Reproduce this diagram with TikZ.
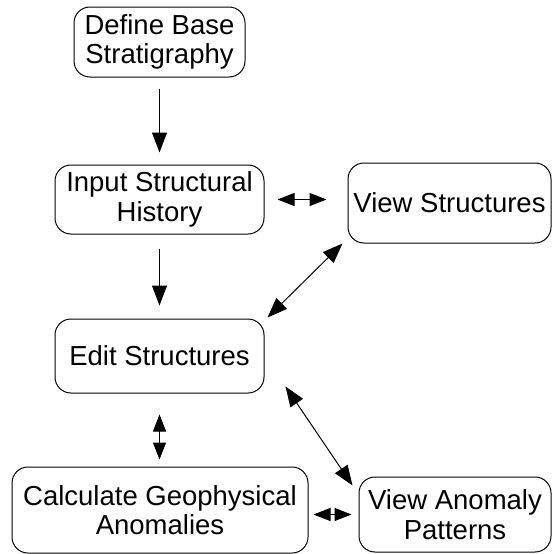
\documentclass[tikz,border=0pt]{standalone}
\usepackage{fontspec}
\setmainfont{Liberation Sans}
\usetikzlibrary{arrows.meta,calc}
\begin{document}
\begin{tikzpicture}[x=1pt,y=-1pt,
  box/.style={draw, line width=1pt, rounded corners=16pt, align=center, inner sep=0pt,
    font=\fontsize{27.5}{29.5}\selectfont},
  arr/.style={line width=1pt, -{Triangle[length=20pt,width=15pt]}},
  darr/.style={line width=1pt, {Triangle[length=20pt,width=15pt]}-{Triangle[length=20pt,width=15pt]}},
  sarr/.style={line width=1pt, {Triangle[length=17pt,width=13pt]}-{Triangle[length=17pt,width=13pt]}}]
\useasboundingbox (0,0) rectangle (552,554);
\node[box, minimum width=171pt, minimum height=70pt] (def) at (159.5,42) {Define Base\\Stratigraphy};
\node[box, minimum width=209pt, minimum height=69pt] (inp) at (159.5,199.5) {Input Structural\\History};
\node[box, minimum width=203pt, minimum height=80pt] (vs) at (449.5,203) {View Structures};
\node[box, minimum width=209pt, minimum height=74pt] (ed) at (159.5,356) {Edit Structures};
\node[box, minimum width=296pt, minimum height=86pt] (calc) at (160,510) {Calculate Geophysical\\Anomalies};
\node[box, minimum width=192pt, minimum height=75pt] (va) at (455,514.5) {View Anomaly\\Patterns};
\draw[arr, shorten <=11pt, shorten >=12pt] (def) -- (inp);
\draw[arr, shorten <=14pt, shorten >=13pt] (inp) -- (ed);
\draw[sarr, shorten <=13pt, shorten >=21pt] (inp.east) -- (inp.east -| vs.west);
\draw[darr] ([shift={(3pt,1pt)}]ed.north east) -- ([shift={(-5pt,0pt)}]vs.south west);
\draw[darr] ([shift={(21pt,7pt)}]ed.south east) -- ([shift={(-6pt,-9pt)}]va.north west);
\draw[sarr, shorten <=21pt, shorten >=7pt] (ed) -- (ed |- calc.north);
\draw[sarr, shorten <=5pt, shorten >=7pt] (calc.east |- va.west) -- (va.west);
\end{tikzpicture}
\end{document}
